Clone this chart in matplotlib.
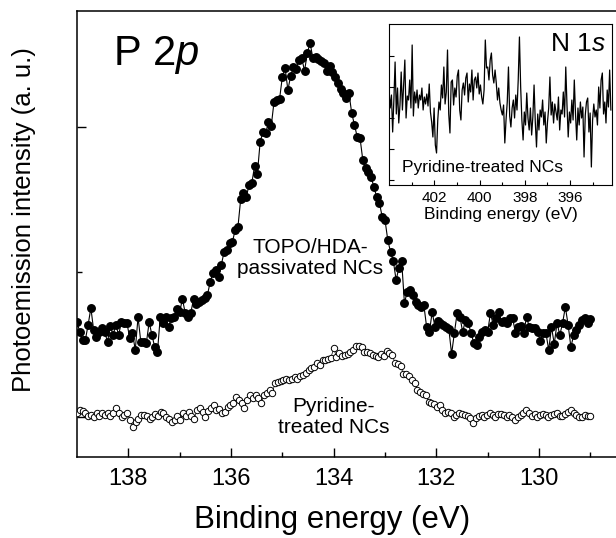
import numpy as np
import matplotlib
matplotlib.use("Agg")
import matplotlib.pyplot as plt
from matplotlib.ticker import FixedLocator, NullFormatter

plt.rcParams["font.family"] = ["Liberation Sans", "DejaVu Sans"]
plt.rcParams["mathtext.fontset"] = "custom"
plt.rcParams["mathtext.rm"] = "Liberation Sans"
plt.rcParams["mathtext.it"] = "Liberation Sans:italic"

# ── P 2p spectra (arbitrary units, evenly spaced from 139 to 129 eV) ─────────
topo_hda = [
    95, 85, 77, 77, 92, 109, 87, 80, 85, 89,
    85, 75, 91, 82, 92, 82, 95, 94, 94, 79,
    84, 67, 100, 75, 75, 74, 95, 82, 70, 65,
    100, 94, 100, 90, 99, 100, 108, 105, 118, 104,
    100, 104, 118, 113, 115, 117, 119, 122, 135, 144,
    147, 140, 152, 165, 167, 174, 175, 187, 190, 218,
    224, 220, 232, 234, 251, 243, 275, 285, 284,
    295, 291, 315, 317, 318, 340, 349, 327, 341, 350,
    348, 357, 359, 346, 364, 374, 359, 360, 358, 356,
    354, 346, 351, 345, 340, 334, 328, 324, 319, 324,
    304, 292, 280, 279, 257, 249, 245, 240, 230, 220,
    214, 200, 197, 177, 165, 156, 137, 149, 156, 114,
    125, 127, 122, 115, 112, 110, 112, 90, 85, 105,
    90, 96, 94, 92, 90, 88, 63, 84, 104, 100,
    85, 97, 94, 84, 74, 72, 80, 85, 87, 85,
    104, 92, 99, 105, 95, 96, 94, 99, 99, 84,
    90, 91, 84, 100, 90, 89, 89, 85, 76, 84,
    84, 67, 90, 73, 94, 82, 94, 110, 92, 70,
    82, 87, 92, 97, 99, 94, 98,
]
pyridine = [
    4, 7, 6, 4, 1, 2, 0, 4, 1, 4,
    2, 4, 1, 4, 9, 4, 0, 2, 4, -3,
    -10, -5, -2, 2, 2, 1, -2, 0, 3, 1,
    5, 4, 0, -2, -5, -3, 1, -3, 4, 1,
    5, 1, -2, 7, 9, 5, 0, 6, 9, 12,
    7, 8, 4, 5, 10, 12, 14, 20, 17, 14,
    9, 17, 22, 19, 22, 19, 14, 22, 24, 27,
    24, 34, 35, 36, 37, 38, 37, 38, 40, 38,
    41, 42, 44, 47, 49, 50, 54, 52, 57, 57,
    58, 59, 69, 60, 64, 61, 62, 63, 65, 67,
    71, 71, 70, 65, 65, 64, 62, 61, 60, 63,
    61, 66, 64, 62, 54, 53, 51, 43, 43, 41,
    37, 34, 27, 25, 23, 22, 15, 14, 13, 10,
    12, 7, 4, 5, 4, 0, 2, 4, 3, 2,
    1, -1, -6, -1, 1, 2, 0, 2, 4, 2,
    0, 3, 3, 2, 0, 2, 0, -3, 0, 2,
    4, 7, 4, 1, 3, 0, 2, 3, 2, 0,
    2, 3, 4, 1, 1, 3, 5, 7, 4, 2,
    0, 0, 2, 1, 1,
]
energy_topo = np.linspace(139.0, 129.0, len(topo_hda))
energy_pyr = np.linspace(139.0, 129.0, len(pyridine))

# ── N 1s inset spectrum (arbitrary units, evenly spaced from 404 to 394.2 eV) ─
n1s = [
    90, 72, 85, 48, 80, 118, 66, 92, 57, 75, 108, 70, 95, 120, 62, 84, 80, 100, 72, 135,
    64, 88, 77, 90, 72, 85, 80, 92, 70, 83, 76, 86, 74, 96, 68, 58, 43, 72, 35, 27, 60, 78,
    70, 95, 82, 113, 76, 88, 130, 66, 47, 98, 100, 75, 92, 83, 104, 110, 70, 60, 90, 97, 85, 102,
    107, 78, 96, 88, 110, 80, 100, 103, 92, 107, 86, 95, 83, 76, 90, 140, 112, 113, 100, 120,
    127, 105, 97, 110,
    97, 80, 92, 77, 70, 65, 75, 37, 60, 78, 113, 64, 53, 72, 80, 62, 85, 70, 100, 143, 93, 60,
    40, 68, 55, 87, 62, 50, 72, 45, 63, 95, 58, 33, 66, 50, 70, 63, 80, 55, 68, 37, 58, 72,
    103, 65, 78, 57, 76,
    68, 60, 83, 50, 70, 66, 88, 63, 113, 75, 43, 68, 57, 80, 60, 100, 66, 40, 72, 55, 78, 62,
    73, 23, 65, 78, 82, 48, 67, 13, 60, 76, 63, 70, 55, 93, 72, 100, 107, 66, 78, 57, 90, 73,
    110, 70,
]
energy_n1s = np.linspace(404.0, 394.2, len(n1s))

main_xticks = [138, 136, 134, 132, 130]
inset_xticks = [402, 400, 398, 396]

# ── Figure ────────────────────────────────────────────────────────────────────
fig = plt.figure(figsize=(6.16, 5.38), dpi=100)
ax = fig.add_axes([77 / 616, 81 / 538, 1 - 77 / 616, 446 / 538])

ax.plot(energy_topo, topo_hda, "-", color="black", lw=0.8,
        marker="o", ms=5.4, mfc="black", mec="black", zorder=3)
ax.plot(energy_pyr, pyridine, "-", color="black", lw=0.5,
        marker="o", ms=4.6, mfc="white", mec="black", mew=0.7, zorder=3)

ax.set_xlim(139.0, 128.5)
ax.set_ylim(-40, 406)

ax.spines["right"].set_visible(False)
for s in ["top", "left", "bottom"]:
    ax.spines[s].set_linewidth(1.1)

ax.xaxis.set_major_locator(FixedLocator(main_xticks))
ax.xaxis.set_minor_locator(FixedLocator([137, 135, 133, 131, 129]))
ax.yaxis.set_major_locator(FixedLocator([0, 290]))
ax.yaxis.set_minor_locator(FixedLocator([145]))
ax.yaxis.set_major_formatter(NullFormatter())
ax.tick_params(axis="both", which="major", direction="in", length=6.5, width=1.0,
               top=False, right=False)
ax.tick_params(axis="both", which="minor", direction="in", length=3.5, width=1.0,
               top=False, right=False)
ax.tick_params(axis="x", labelsize=17, pad=8)

fig.text(332 / 616, 10 / 538, "Binding energy (eV)", fontsize=22.5,
         ha="center", va="baseline")
fig.text(24 / 616, 1 - 220 / 538, "Photoemission intensity (a. u.)", fontsize=18.5,
         rotation=90, ha="center", va="center")

fig.text(113 / 616, 1 - 65 / 538, r"P 2$\mathit{p}$", fontsize=30,
         ha="left", va="baseline")
fig.text(310 / 616, 1 - 258 / 538, "TOPO/HDA-\npassivated NCs", fontsize=15,
         ha="center", va="center", linespacing=1.15)
fig.text(334 / 616, 1 - 417 / 538, "Pyridine-\ntreated NCs", fontsize=15,
         ha="center", va="center", linespacing=1.15)

# ── Inset ─────────────────────────────────────────────────────────────────────
ins = fig.add_axes([389 / 616, 1 - 185 / 538, 223 / 616, 161 / 538])
ins.plot(energy_n1s, n1s, "-", color="black", lw=0.9)
ins.set_xlim(404.0, 394.15)
ins.set_ylim(-5, 156)
for s in ins.spines.values():
    s.set_linewidth(0.8)
ins.xaxis.set_major_locator(FixedLocator(inset_xticks))
ins.xaxis.set_minor_locator(FixedLocator([403, 401, 399, 397, 395]))
ins.yaxis.set_major_locator(FixedLocator([0, 31, 62, 93, 124]))
ins.yaxis.set_major_formatter(NullFormatter())
ins.tick_params(axis="both", which="major", direction="in", length=3.5, width=0.8)
ins.tick_params(axis="both", which="minor", direction="in", length=2.0, width=0.8)
ins.tick_params(axis="x", labelsize=11, pad=4)
ins.set_xlabel("Binding energy (eV)", fontsize=12.5, labelpad=2)
ins.text(0.97, 0.83, r"N 1$\mathit{s}$", fontsize=19, ha="right", va="baseline",
         transform=ins.transAxes)
ins.text(0.06, 0.08, "Pyridine-treated NCs", fontsize=12.5, ha="left", va="baseline",
         transform=ins.transAxes)

fig.savefig("out.png", dpi=100)
